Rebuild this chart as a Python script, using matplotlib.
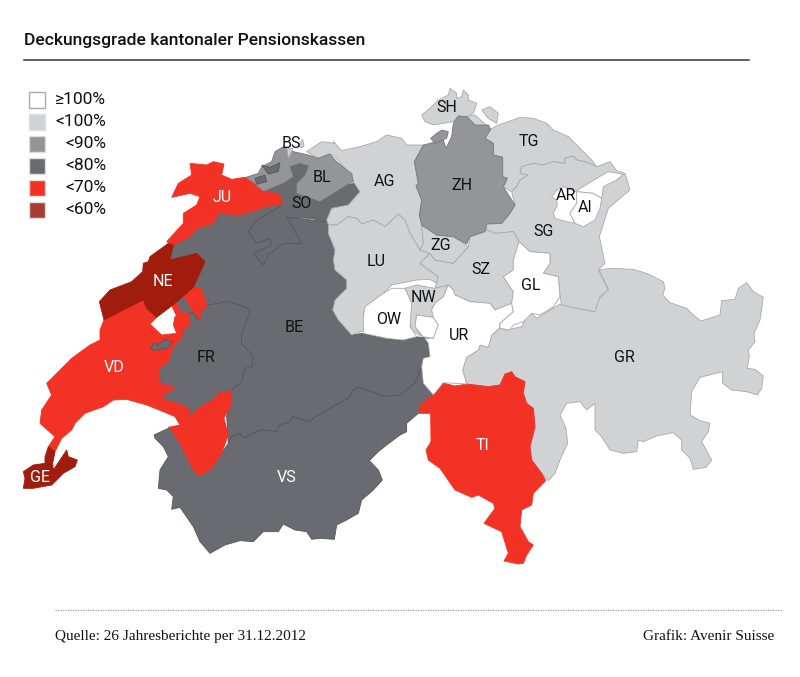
import matplotlib
matplotlib.use('Agg')
import matplotlib.pyplot as plt
from matplotlib.patches import Polygon, Rectangle


def crop(x0, y0, pts):
    return [(x0 + x / 3, y0 + y / 3) for x, y in pts]


legend_labels = ['≥100%', '<100%', '<90%', '<80%', '<70%', '<60%']
legend_colors = ['#ffffff', '#d1d2d4', '#939598', '#6a6b70', '#f13225', '#a83c36']
class_colors = ['#ffffff', '#d1d2d4', '#939598', '#6a6b70', '#f13225', '#a01c0c']
class_edges = ['#a7a9ac', '#a7a9ac', '#77787b', '#555659', '#f13225', '#a01c0c']

# canton -> class index in legend_labels
canton_class = {'AG': 1, 'LU': 1, 'SZ': 1, 'ZG': 1, 'TG': 1, 'SG': 1, 'SH': 1, 'NW': 1, 'GR': 1, 'BS': 1,
                'UR': 0, 'OW': 0, 'GL': 0, 'AR': 0, 'AI': 0,
                'ZH': 2, 'BL': 2,
                'BE': 3, 'FR': 3, 'SO': 3, 'VS': 3,
                'JU': 4, 'VD': 4, 'TI': 4,
                'NE': 5, 'GE': 5}

BE = crop(0, 80, [(520, 495), (570, 470), (590, 445), (640, 430), (655, 400), (720, 405), (800, 380), (845, 370), (860, 412), (985, 425)]) \
    + crop(320, 80, [(25, 460), (45, 510), (40, 540), (45, 570), (80, 600), (80, 625), (45, 660), (38, 690), (55, 720), (95, 765), (130, 760), (200, 775), (250, 780), (270, 768), (325, 775), (325, 800), (330, 840)]) \
    + crop(400, 260, [(70, 295), (65, 320), (45, 370), (0, 405)]) \
    + crop(0, 300, [(1155, 290), (1115, 275), (1075, 262), (1060, 270), (1045, 295), (980, 330), (925, 365), (880, 350), (870, 365), (838, 375), (830, 395), (780, 390), (730, 415), (720, 400), (695, 410), (685, 430), (680, 350), (692, 272), (560, 200)]) \
    + crop(0, 80, [(510, 540)])
VS = crop(0, 300, [(462, 405), (505, 385), (515, 390), (540, 430), (580, 510), (595, 528), (630, 510), (665, 460), (685, 430), (695, 410), (720, 400), (730, 415), (780, 390), (830, 395), (838, 375), (870, 365), (880, 350), (925, 365), (980, 330), (1045, 295), (1060, 270), (1075, 262), (1115, 275), (1155, 290), (1200, 285)]) \
    + crop(400, 260, [(45, 370), (65, 320), (70, 370), (100, 405), (55, 460), (20, 490), (20, 515), (0, 525)]) \
    + crop(0, 300, [(1160, 435), (1135, 455), (1108, 482), (1135, 510), (1147, 540), (1120, 570), (1085, 600), (1075, 640), (1040, 660), (1010, 675), (1003, 718), (960, 715), (935, 718), (920, 695), (885, 690), (850, 672), (835, 695), (790, 695), (760, 725), (720, 722), (675, 735), (630, 760), (600, 725), (580, 680), (540, 622), (515, 628), (520, 590), (500, 570), (475, 565), (480, 510), (505, 470), (490, 440), (465, 415)])
FR = crop(0, 300, [(478, 205), (505, 185), (520, 140), (550, 105), (545, 95), (570, 65), (565, 35), (580, 40), (595, 60), (605, 30), (625, 15), (680, 5), (720, 15), (750, 30), (745, 50), (725, 100), (725, 130), (760, 170), (755, 200), (735, 205), (725, 245), (695, 270), (655, 280), (640, 300), (600, 320), (572, 350), (565, 325), (535, 310), (495, 300), (485, 285), (525, 262), (480, 250)])
FR_enclave = crop(0, 300, [(452, 145), (462, 128), (473, 135), (495, 118), (515, 125), (505, 143), (475, 148), (462, 152)])
SO = crop(0, 80, [(845, 360), (790, 335), (850, 310), (880, 290), (870, 260), (900, 250), (925, 258), (915, 285), (890, 310), (890, 340), (960, 365), (1000, 340), (1040, 315), (1065, 310), (1080, 330), (1070, 360), (1040, 375), (1010, 390), (985, 425), (930, 415), (860, 412), (880, 445), (905, 490), (850, 490), (805, 525), (790, 555), (760, 520), (815, 495), (810, 475), (770, 490), (745, 455), (770, 420), (840, 380)])
SO_part1 = crop(0, 80, [(785, 255), (810, 262), (840, 248), (835, 275), (805, 282)])
SO_part2 = crop(0, 80, [(765, 295), (795, 285), (800, 305), (770, 313)])
BL = crop(0, 80, [(735, 293), (775, 280), (785, 260), (815, 245), (825, 215), (850, 200), (880, 215), (925, 225), (955, 235), (990, 222), (1010, 245), (1040, 270), (1055, 280), (1060, 305), (1040, 315), (1000, 340), (960, 365), (890, 340), (890, 310), (915, 285), (925, 258), (900, 250), (870, 260), (880, 290), (850, 310), (790, 335), (770, 315), (760, 310)])
BS = crop(0, 80, [(860, 205), (878, 205), (866, 236)])
BS_part = crop(0, 80, [(895, 198), (908, 178), (912, 198), (902, 204)])
JU = crop(0, 80, [(570, 250), (620, 255), (640, 245), (672, 252), (665, 285), (695, 298), (735, 292), (760, 310), (790, 335), (835, 340), (850, 370), (800, 380), (720, 405), (655, 400), (640, 430), (590, 445), (570, 470), (520, 495), (500, 485), (550, 430), (550, 400), (590, 375), (600, 350), (570, 340), (515, 352), (535, 310), (575, 285)])
NE = crop(0, 80, [(520, 495), (510, 540), (590, 520), (615, 545), (590, 600), (580, 622), (525, 670)]) \
    + crop(0, 300, [(470, 52), (440, 25), (430, 0), (360, 35), (312, 60)]) \
    + crop(0, 80, [(298, 665), (330, 630), (395, 605), (428, 575), (430, 550), (445, 545), (450, 530), (505, 490)])
VD = crop(0, 300, [(312, 60), (360, 35), (430, 0), (440, 25), (470, 52), (450, 72), (485, 105), (530, 100), (520, 75), (525, 50), (565, 35), (570, 65), (545, 95), (550, 105), (520, 140), (505, 185), (478, 205), (480, 250), (525, 262), (510, 275), (485, 285), (495, 300), (535, 310), (565, 325), (572, 350), (600, 320), (640, 300), (655, 280), (692, 272), (695, 310), (672, 355), (685, 405), (665, 460), (630, 510), (595, 528), (580, 510), (540, 430), (515, 390), (505, 382), (540, 375), (525, 350), (490, 335), (440, 315), (380, 298), (340, 300), (310, 320), (255, 340), (225, 370), (215, 390), (185, 415), (165, 455), (145, 440), (165, 410), (120, 370), (125, 330), (155, 285), (140, 250), (215, 175), (270, 135), (300, 120), (300, 90)])
VD_lobe1 = crop(0, 80, [(550, 645), (580, 622), (603, 622), (622, 680), (605, 690), (600, 720), (585, 700), (570, 680)])
VD_lobe2 = crop(0, 80, [(513, 672), (530, 670), (545, 700), (565, 705), (570, 740), (545, 745), (535, 720)])
GE = crop(0, 300, [(135, 470), (145, 440), (165, 455), (158, 490), (160, 510), (180, 480), (200, 450), (205, 470), (232, 480), (225, 500), (190, 520), (155, 555), (100, 565), (70, 565), (75, 535), (70, 515), (100, 495), (135, 490)])
AG = crop(0, 80, [(955, 235), (920, 215), (965, 185), (1005, 190)]) \
    + crop(320, 80, [(40, 185), (65, 212), (120, 200), (170, 185), (200, 165), (245, 175), (260, 195), (310, 195), (283, 245), (295, 310), (288, 318), (305, 360), (298, 405), (305, 435), (310, 490), (300, 510), (270, 460), (255, 420), (235, 402), (195, 440), (160, 420), (125, 432), (110, 415), (85, 410), (50, 435), (25, 435), (20, 420), (35, 385), (85, 375), (120, 335), (100, 305), (80, 270), (40, 225), (25, 222)])
LU = crop(320, 80, [(25, 435), (50, 435), (85, 410), (110, 415), (125, 432), (160, 420), (195, 440), (235, 402), (255, 420), (270, 460), (300, 510), (330, 520), (300, 550), (320, 565), (355, 590), (350, 610), (330, 598), (290, 600), (215, 615), (190, 640), (150, 675), (130, 700), (135, 750), (95, 765), (55, 720), (38, 690), (45, 660), (80, 625), (80, 600), (45, 570), (40, 540), (45, 510), (25, 460)])
OW = crop(320, 80, [(135, 680), (190, 640), (215, 625), (255, 625), (275, 670), (270, 740), (290, 770), (250, 780), (200, 775), (130, 760), (130, 710)])
OW_part = crop(320, 80, [(290, 705), (340, 712), (355, 735), (340, 775), (310, 770), (285, 740)])
NW = crop(320, 80, [(255, 625), (290, 615), (345, 625), (385, 615), (370, 650), (345, 670), (335, 690), (340, 712), (290, 705), (285, 740), (305, 770), (275, 750), (268, 720), (275, 670)])
UR = crop(320, 80, [(385, 615), (400, 630), (405, 645), (450, 665), (510, 670), (525, 690), (575, 670), (580, 695), (540, 730), (538, 745)]) \
    + crop(400, 260, [(275, 225), (265, 262), (240, 255), (235, 270), (200, 292), (188, 330), (200, 372), (130, 368), (100, 405), (70, 370), (65, 320), (70, 295), (90, 290), (85, 250), (75, 235)]) \
    + crop(320, 80, [(340, 775), (355, 735), (340, 712), (335, 690), (345, 670), (370, 650)])
SZ = crop(320, 80, [(300, 550), (330, 520), (345, 540), (400, 550), (445, 500), (450, 470), (500, 450), (525, 460), (580, 455), (597, 485), (580, 540), (580, 570), (550, 590), (580, 635), (575, 670), (525, 690), (510, 670), (450, 665), (405, 645), (400, 630), (385, 615), (345, 625), (355, 590), (320, 565)])
ZG = crop(320, 80, [(300, 510), (310, 490), (305, 435), (350, 465), (400, 470), (445, 500), (400, 550), (345, 540), (330, 520)])
ZH = crop(320, 80, [(415, 108), (440, 110), (465, 135), (505, 135), (512, 148), (495, 175), (520, 190), (520, 225), (548, 232), (548, 290), (562, 295), (550, 320), (585, 375), (570, 400), (545, 430), (500, 432), (495, 455), (450, 470), (440, 492), (400, 470), (350, 465), (305, 435), (298, 405), (305, 360), (288, 318), (295, 310), (283, 245), (310, 195), (370, 180), (378, 205), (395, 170), (400, 130)])
ZH_part = crop(320, 80, [(332, 175), (350, 160), (365, 150), (385, 155), (380, 175), (345, 190)])
SH = crop(320, 80, [(305, 105), (330, 85), (355, 60), (385, 45), (390, 25), (410, 40), (410, 55), (425, 50), (430, 30), (445, 45), (445, 60), (470, 70), (460, 100), (440, 110), (415, 108), (400, 125), (370, 130), (340, 135), (315, 125)])
SH_part = crop(320, 80, [(485, 90), (510, 80), (535, 100), (530, 130), (505, 115)])
TG = crop(320, 80, [(440, 110), (465, 105), (512, 148), (535, 135), (565, 125), (600, 112), (640, 115), (680, 130), (700, 150), (745, 170), (775, 200), (815, 240), (830, 260), (795, 245), (770, 240), (760, 228), (735, 235), (735, 250), (700, 245), (670, 255), (640, 250), (605, 260), (600, 280), (625, 285), (600, 300), (590, 320), (575, 335), (550, 320), (562, 295), (548, 290), (548, 232), (520, 225), (520, 190), (495, 175), (512, 148), (465, 135)])
SG = crop(320, 80, [(575, 335), (590, 320), (600, 300), (625, 285), (600, 280), (605, 260), (640, 250), (670, 255), (700, 245), (735, 250), (735, 235), (760, 228), (770, 240), (795, 245), (830, 260), (870, 245), (890, 272), (915, 280), (930, 330), (900, 355), (865, 385), (838, 470), (855, 550), (835, 570), (865, 630), (840, 650), (825, 695), (770, 685), (725, 675), (720, 650), (715, 590), (670, 580), (690, 550), (690, 520), (630, 515), (597, 485), (580, 455), (525, 460), (500, 450), (500, 432), (545, 430), (570, 400), (585, 375)])
GL = crop(320, 80, [(597, 485), (630, 515), (690, 520), (690, 550), (670, 580), (715, 590), (720, 650), (700, 680), (660, 705), (635, 700), (610, 725), (580, 735), (570, 750), (540, 745), (540, 730), (580, 695), (575, 670), (580, 635), (550, 590), (580, 570), (580, 540)])
AR = crop(320, 80, [(695, 352), (710, 330), (730, 320), (765, 335), (830, 295), (865, 275), (910, 283), (890, 300), (850, 320), (845, 355), (820, 340), (770, 335), (770, 370), (750, 400), (765, 430), (740, 425), (705, 415), (700, 400), (712, 375), (710, 360)])
AI = crop(320, 80, [(770, 335), (820, 340), (845, 355), (840, 385), (825, 420), (790, 440), (765, 430), (750, 400), (770, 370)])
GR = crop(400, 260, [(597, 30), (630, 25), (700, 28), (745, 42), (790, 65), (795, 85), (788, 105), (810, 128), (860, 145), (880, 165), (903, 183), (960, 165), (965, 122), (1005, 118), (1015, 85), (1040, 68), (1060, 95), (1090, 112), (1080, 180), (1062, 220), (1065, 245), (1045, 270), (1048, 290), (1042, 325), (1065, 328), (1090, 348), (1085, 385), (1072, 405), (1040, 395), (995, 390), (968, 370), (968, 335), (940, 342), (900, 352), (875, 395), (870, 465), (900, 482), (930, 490), (925, 515), (905, 545), (935, 600), (918, 622), (880, 628), (870, 595), (845, 570), (845, 540), (820, 518), (770, 528), (730, 545), (715, 540), (710, 575), (670, 580), (630, 570), (605, 530), (585, 510), (585, 430), (560, 450), (540, 425), (500, 430), (480, 465), (498, 505), (503, 550), (480, 600), (465, 640), (445, 662), (425, 640), (395, 600), (390, 560), (405, 500), (400, 445), (380, 430), (370, 400), (375, 365), (340, 350), (315, 342), (300, 375), (265, 380), (200, 372), (188, 330), (200, 292), (235, 270), (240, 255), (265, 262), (275, 225), (300, 205), (320, 210), (365, 200), (380, 170), (395, 160), (410, 175), (450, 150), (480, 132), (580, 155), (595, 120), (625, 88)])
TI = crop(400, 260, [(57, 460), (60, 435), (100, 405), (125, 368), (165, 378), (200, 372), (265, 380), (300, 375), (315, 342), (335, 335), (345, 350), (375, 365), (370, 400), (380, 430), (400, 445), (405, 500), (390, 560), (395, 600), (425, 640), (437, 662), (400, 700), (395, 735), (365, 750), (360, 800), (385, 845), (400, 855), (380, 885), (370, 910), (355, 912), (312, 903), (325, 880), (305, 815), (252, 790), (285, 745), (280, 730), (235, 705), (215, 712), (165, 690), (120, 625), (85, 600), (78, 570), (93, 545), (92, 460)])

# drawing order: later shapes sit on top of earlier ones
shapes = [('BE', BE), ('VS', VS), ('FR', FR), ('SO', SO), ('GR', GR), ('TI', TI), ('AG', AG), ('LU', LU),
          ('TG', TG), ('SG', SG), ('SZ', SZ), ('ZG', ZG), ('SH', SH), ('SH', SH_part), ('ZH', ZH), ('ZH', ZH_part),
          ('BL', BL), ('SO', SO_part1), ('SO', SO_part2), ('BS', BS), ('BS', BS_part), ('NW', NW), ('OW', OW), ('OW', OW_part),
          ('UR', UR), ('GL', GL), ('AR', AR), ('AI', AI), ('JU', JU), ('VD', VD), ('VD', VD_lobe1), ('VD', VD_lobe2),
          ('FR', FR_enclave), ('NE', NE), ('GE', GE)]

labels = ['BS', 'BL', 'SO', 'JU', 'AG', 'ZH', 'SH', 'TG', 'AR', 'AI', 'SG', 'ZG', 'LU', 'SZ', 'GL', 'NW', 'OW', 'UR', 'NE', 'VD', 'FR', 'BE', 'GR', 'TI', 'VS', 'GE']
label_x = [291, 322, 301, 222, 384, 462, 447, 529, 566, 585, 544, 441, 376, 481, 531, 424, 389, 459, 163, 114, 206, 294, 624, 483, 287, 40]
label_y = [143, 177, 204, 197, 181, 185, 108, 142, 195, 207, 232, 245, 261, 269, 286, 297, 320, 336, 282, 367, 357, 328, 357, 446, 478, 477]
white_labels = ['JU', 'NE', 'VD', 'TI', 'VS', 'GE']


def main():
    fig = plt.figure(figsize=(8, 6.77), dpi=100)
    ax = fig.add_axes([0, 0, 1, 1])
    ax.set_xlim(0, 800)
    ax.set_ylim(677, 0)
    ax.axis('off')
    plt.rcParams['font.family'] = ['Roboto', 'DejaVu Sans']

    ax.text(24, 40, 'Deckungsgrade kantonaler Pensionskassen', fontsize=12.6, weight='medium', color='#111111', va='center')
    ax.plot([24, 749], [60, 60], color='#333333', lw=1.1)

    for name, outline in shapes:
        c = canton_class[name]
        ax.add_patch(Polygon(outline, closed=True, facecolor=class_colors[c], edgecolor=class_edges[c], lw=0.6))

    for name, x, y in zip(labels, label_x, label_y):
        col = 'white' if name in white_labels else '#111111'
        ax.text(x, y, name, fontsize=11.5, color=col, ha='center', va='center', stretch='condensed')

    for i, (lab, col) in enumerate(zip(legend_labels, legend_colors)):
        y = 92 + 22 * i
        edge = '#a7a9ac' if i == 0 else '#dddddd'
        ax.add_patch(Rectangle((29, y), 16, 16, facecolor=col, edgecolor=edge, lw=1))
        ax.text(106, y + 8, lab, fontsize=12.5, color='#111111', ha='right', va='center')

    ax.plot([55, 782], [610, 610], color='#999999', lw=0.9, ls=(0, (1, 1)))
    ax.text(55, 640, 'Quelle: 26 Jahresberichte per 31.12.2012', family='Liberation Serif', fontsize=11, color='#111111')
    ax.text(774, 640, 'Grafik: Avenir Suisse', family='Liberation Serif', fontsize=11, color='#111111', ha='right')

    fig.savefig('out.png', dpi=100)


if __name__ == '__main__':
    main()
